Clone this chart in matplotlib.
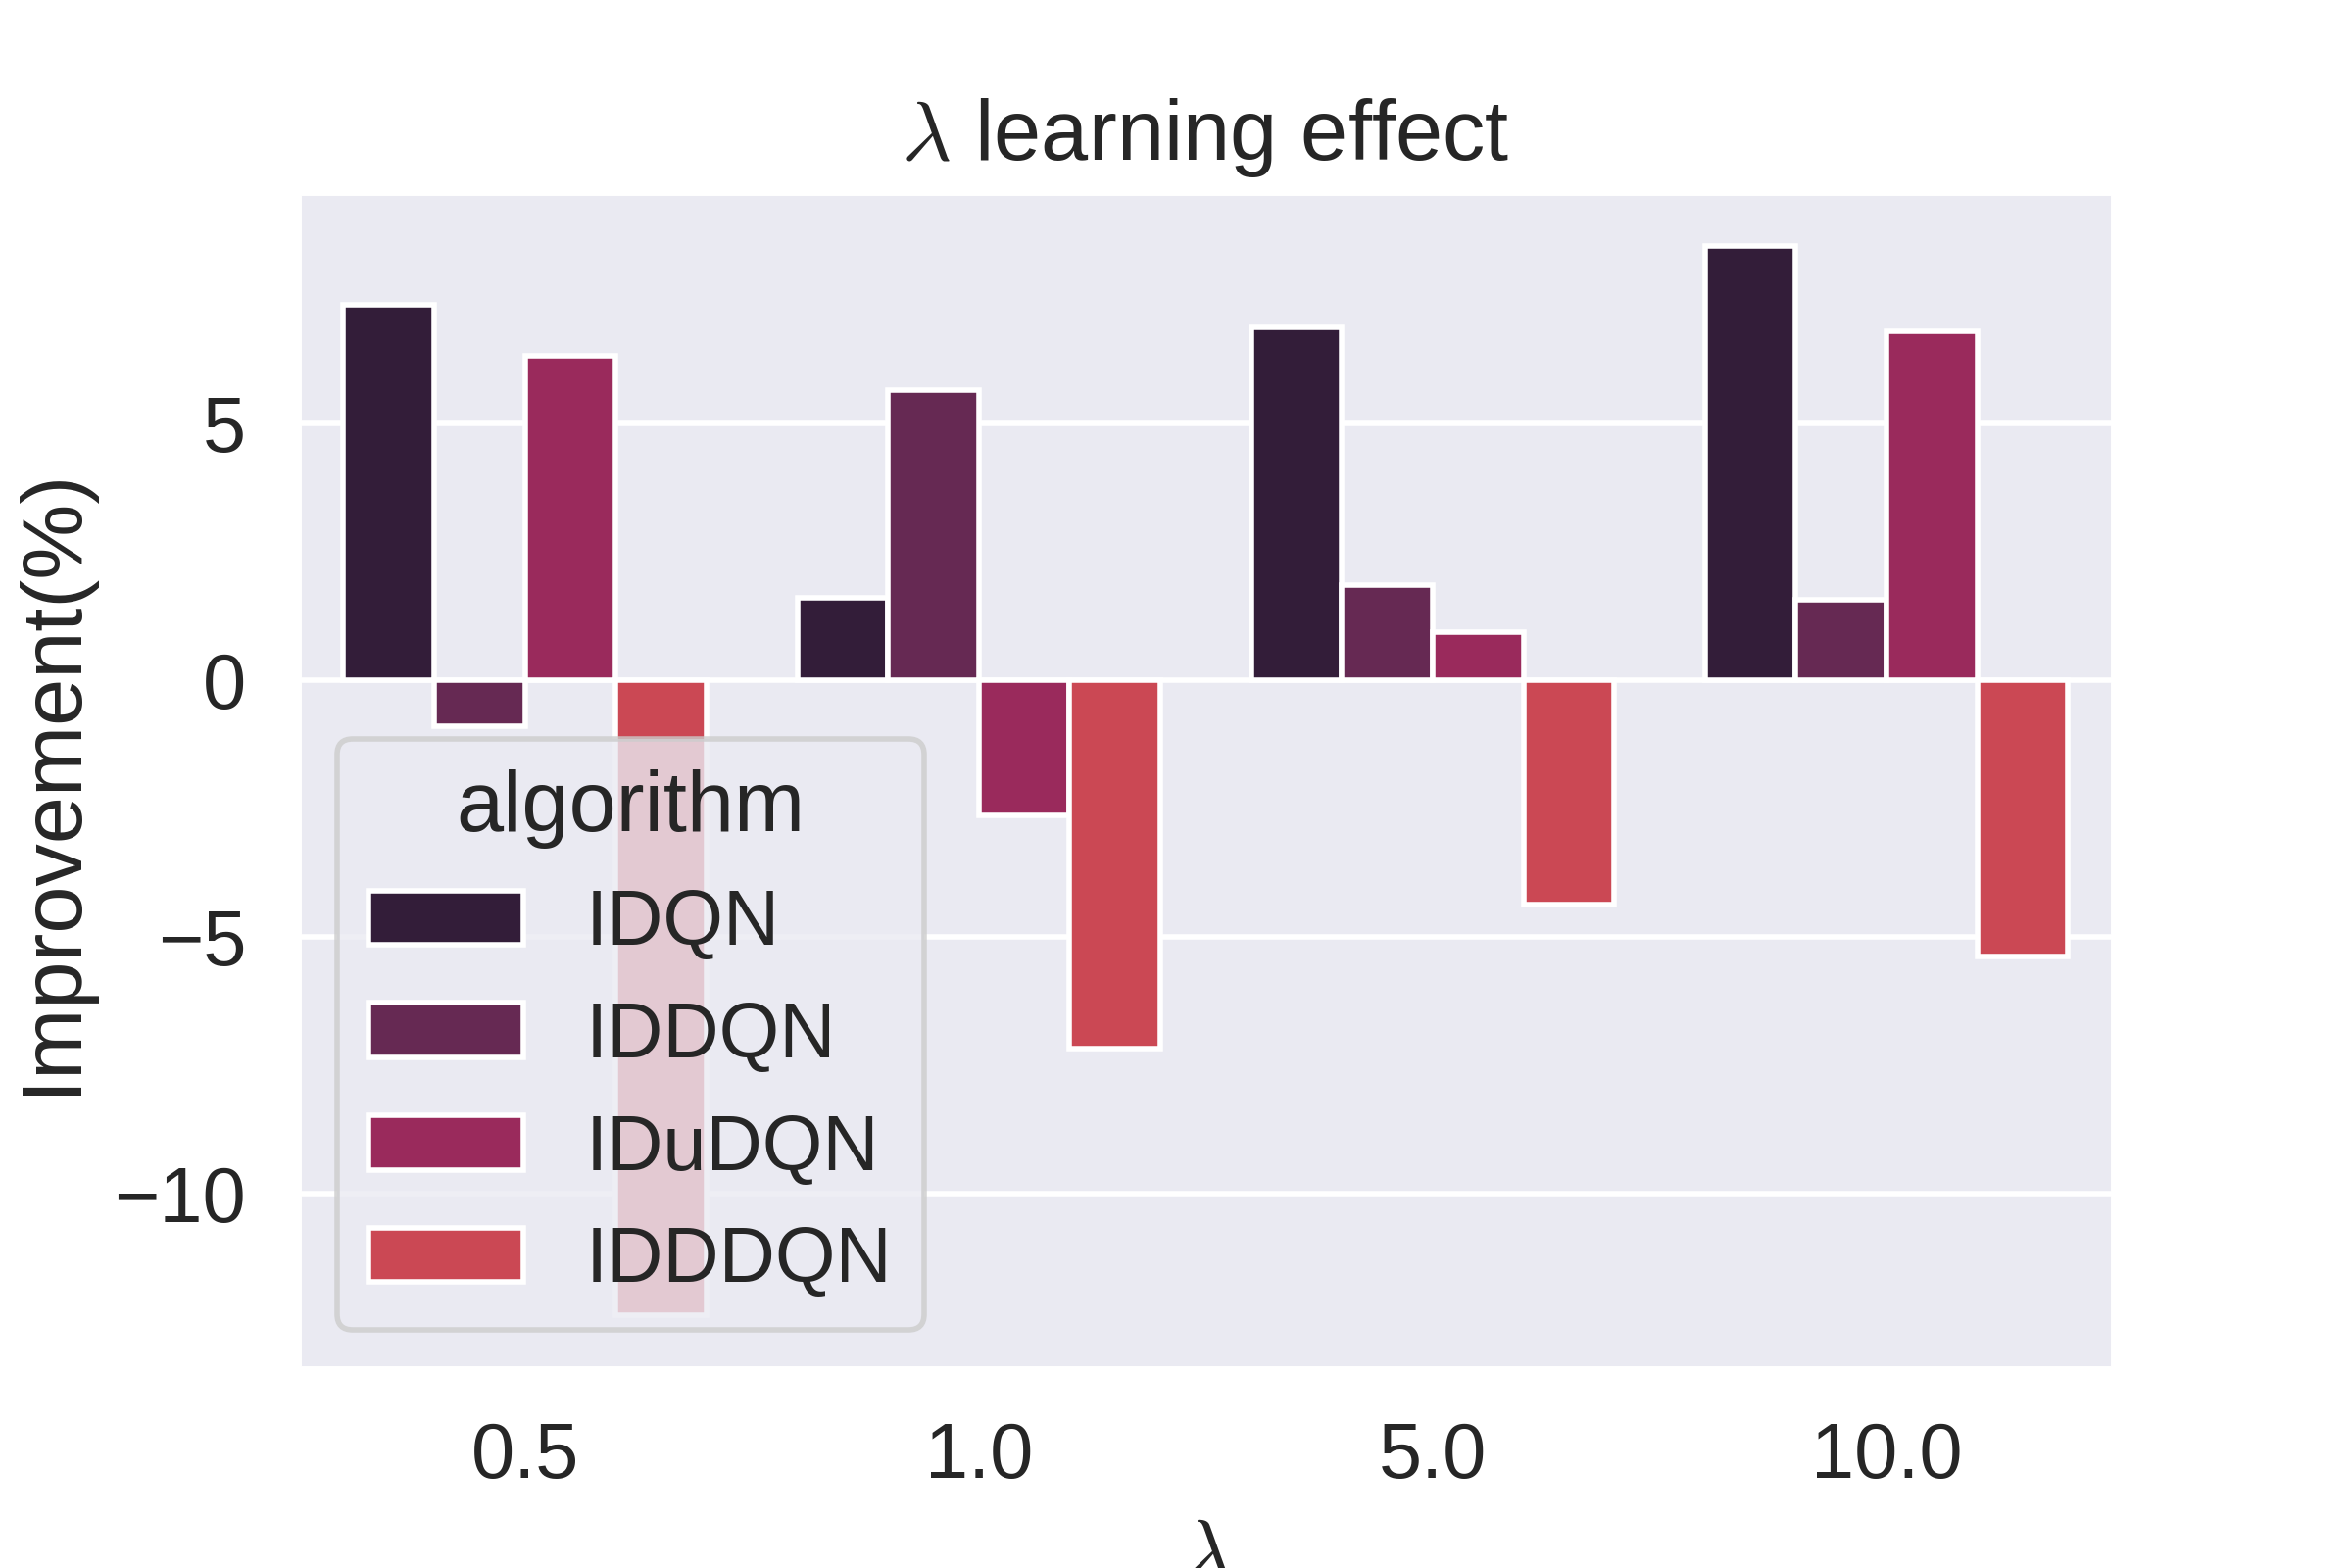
import matplotlib
matplotlib.use("Agg")
import matplotlib.pyplot as plt
import seaborn as sns
import pandas as pd

# Data
lambdas = ["0.5", "1.0", "5.0", "10.0"]
algorithms = ["IDQN", "IDDQN", "IDuDQN", "IDDDQN"]
idqn = [7.31, 1.60, 6.86, 8.46]
iddqn = [-0.89, 5.64, 1.85, 1.56]
idudqn = [6.31, -2.63, 0.94, 6.80]
idddqn = [-12.36, -7.17, -4.37, -5.38]

series = {"IDQN": idqn, "IDDQN": iddqn, "IDuDQN": idudqn, "IDDDQN": idddqn}
rows = []
for alg in algorithms:
    for lam, v in zip(lambdas, series[alg]):
        rows.append({"lambda": lam, "improvement": v, "algorithm": alg})
df = pd.DataFrame(rows)

sns.set_theme(style="darkgrid", font_scale=1.3)
plt.rcParams["font.family"] = ["Liberation Sans", "DejaVu Sans"]
plt.rcParams["mathtext.fontset"] = "cm"

palette = sns.color_palette("rocket", 6)[:4]

fig = plt.figure(figsize=(6, 4), dpi=400)
left, right, bottom, top = 0.1267, 0.8986, 0.127, 0.8775
ax = fig.add_axes([left, bottom, right - left, top - bottom])
sns.barplot(data=df, x="lambda", y="improvement", hue="algorithm",
            order=lambdas, hue_order=algorithms, palette=palette, ax=ax)
ax.set_title(r"$\lambda$ learning effect")
ax.set_xlabel(r"$\lambda$")
ax.set_ylabel("Improvement(%)")
ax.legend(title="algorithm", loc="lower left")

fig.savefig("out.png", dpi=400)
